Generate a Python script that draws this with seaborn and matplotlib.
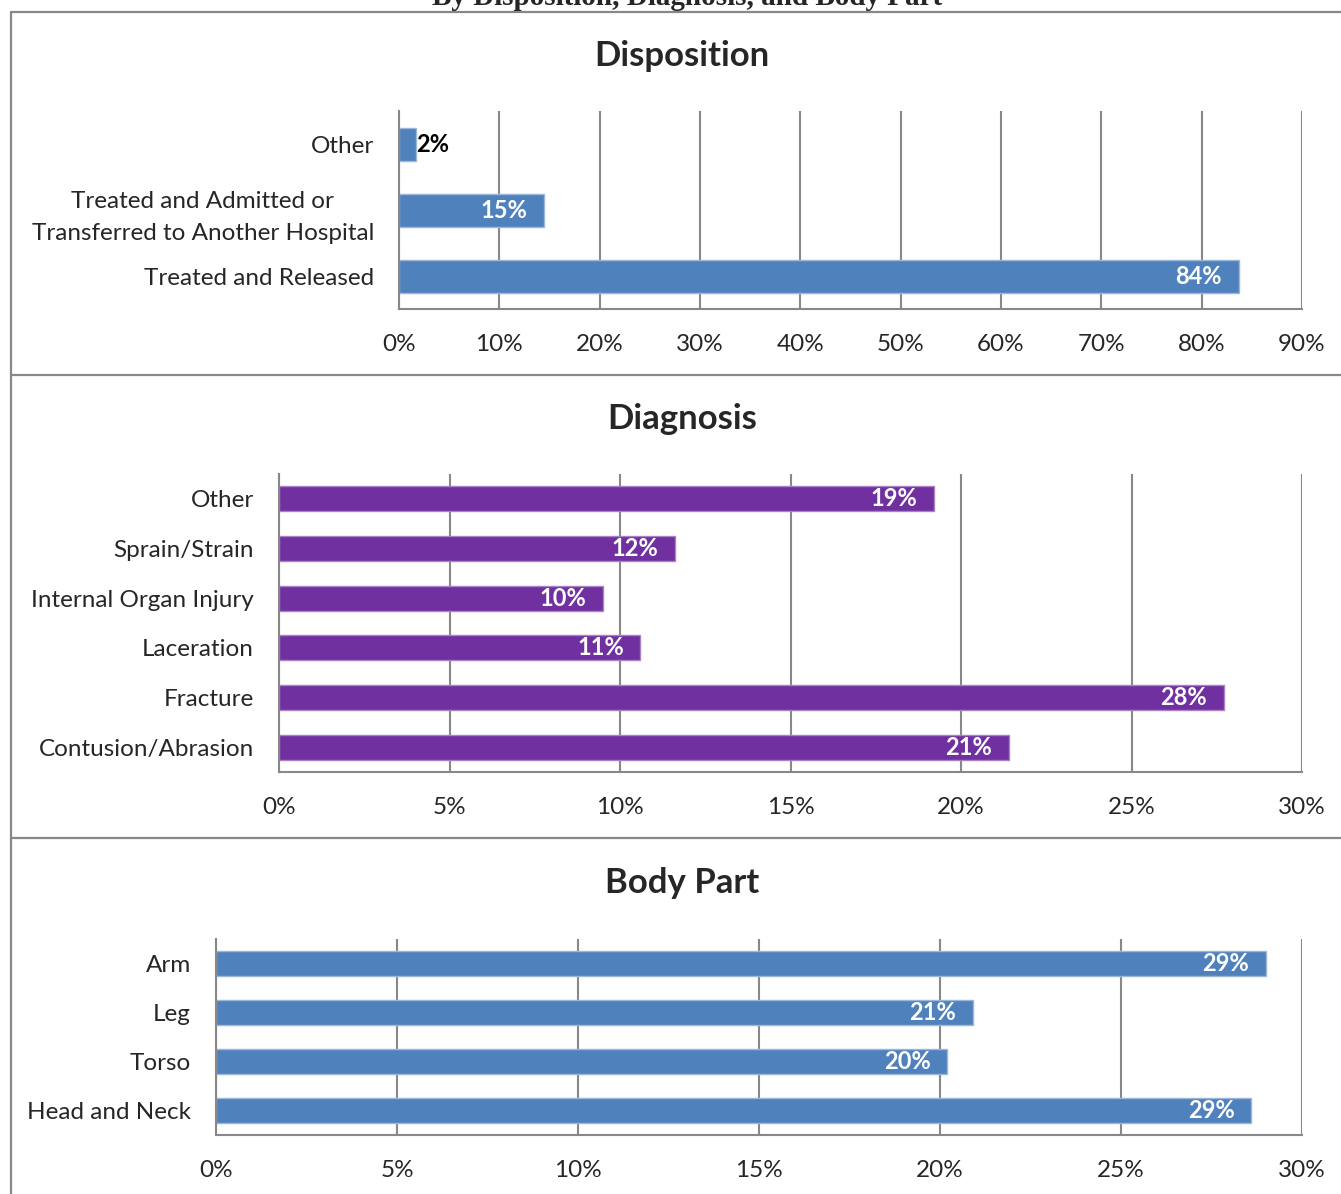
import matplotlib
matplotlib.use("Agg")
import matplotlib.pyplot as plt
from matplotlib.lines import Line2D
import seaborn as sns
import numpy as np
import pandas as pd

# --- data ---
disp_cats = ["Other", "Treated and Admitted or\nTransferred to Another Hospital", "Treated and Released"]
disp_vals = [1.7, 14.5, 83.7]
disp_labels = ["2%", "15%", "84%"]

diag_cats = ["Other", "Sprain/Strain", "Internal Organ Injury", "Laceration", "Fracture", "Contusion/Abrasion"]
diag_vals = [19.2, 11.6, 9.5, 10.6, 27.7, 21.4]
diag_labels = ["19%", "12%", "10%", "11%", "28%", "21%"]

body_cats = ["Arm", "Leg", "Torso", "Head and Neck"]
body_vals = [29.0, 20.9, 20.2, 28.6]
body_labels = ["29%", "21%", "20%", "29%"]

BLUE = "#4F81BD"
PURPLE = "#7030A0"
GRID = "#888888"
W, H = 1341, 1194
FS = 17.5

sns.set_style("white")
plt.rcParams['font.family'] = ['Lato', 'DejaVu Sans']


def px_axes(fig, left, top, right, bottom):
    """Add axes from pixel box (top-left origin)"""
    return fig.add_axes([left / W, 1 - bottom / H, (right - left) / W, (bottom - top) / H])


def draw_panel(ax, cats, vals, labels, color, edge, xmax, step):
    df = pd.DataFrame({"cat": cats, "val": vals})
    sns.barplot(data=df, x="val", y="cat", orient="h", color=color, width=0.5,
                saturation=1, edgecolor=edge, linewidth=1, ax=ax)
    n = len(cats)
    ax.set_xlim(0, xmax)
    ax.set_ylim(n - 0.5, -0.5)
    ticks = np.arange(0, xmax + step / 2, step)
    ax.set_xticks(ticks)
    ax.set_xticklabels([f"{t:.0f}%" for t in ticks])
    ax.set_xlabel("")
    ax.set_ylabel("")
    ax.xaxis.grid(True, color=GRID, lw=1.5)
    ax.yaxis.grid(False)
    ax.set_axisbelow(True)
    for s in ["top", "right"]:
        ax.spines[s].set_visible(False)
    for s in ["left", "bottom"]:
        ax.spines[s].set_color(GRID)
        ax.spines[s].set_linewidth(1.5)
    ax.set_yticks(np.arange(-0.5, n), minor=True)
    ax.tick_params(axis="y", which="major", length=0, pad=18, labelsize=FS)
    ax.tick_params(axis="y", which="minor", length=6, width=1.5, color=GRID)
    ax.tick_params(axis="x", length=6, width=1.5, color=GRID, pad=12, labelsize=FS)
    for lab in ax.get_yticklabels():
        lab.set_multialignment("center")
        lab.set_linespacing(1.65)
    for i, (v, t) in enumerate(zip(vals, labels)):
        if v < 5:
            ax.annotate(t, xy=(v, i), xytext=(0, 0), textcoords="offset points",
                        ha="left", va="center", fontsize=17, fontweight="bold", color="black")
        else:
            ax.annotate(t, xy=(v, i), xytext=(-12, 0), textcoords="offset points",
                        ha="right", va="center", fontsize=17, fontweight="bold", color="white")


fig = plt.figure(figsize=(W / 100, H / 100), dpi=100)

ax1 = px_axes(fig, 399, 111, 1302, 309)
draw_panel(ax1, disp_cats, disp_vals, disp_labels, BLUE, "#9BB7DA", 90, 10)

ax2 = px_axes(fig, 279, 474, 1302, 772)
draw_panel(ax2, diag_cats, diag_vals, diag_labels, PURPLE, "#A982C6", 30, 5)

ax3 = px_axes(fig, 216, 939, 1302, 1135)
draw_panel(ax3, body_cats, body_vals, body_labels, BLUE, "#9BB7DA", 30, 5)

# panel titles
for title, base in [("Disposition", 66), ("Diagnosis", 429), ("Body Part", 893)]:
    fig.text(682 / W, 1 - base / H, title, ha="center", va="baseline",
             fontsize=25, fontweight="bold")

# clipped document heading at the very top (cut off in the source too)
fig.text(687 / W, 1 - 5 / H, "By Disposition, Diagnosis, and Body Part",
         ha="center", va="baseline", fontsize=21, fontweight="bold",
         family="Liberation Serif")

# chart box frame lines
for y in [12, 375, 838]:
    fig.add_artist(Line2D([11 / W, 1], [1 - y / H, 1 - y / H], color=GRID, lw=1.6))
fig.add_artist(Line2D([11 / W, 11 / W], [1 - 12 / H, 0], color=GRID, lw=1.6))

fig.savefig("out.png", dpi=100)
plt.close()
